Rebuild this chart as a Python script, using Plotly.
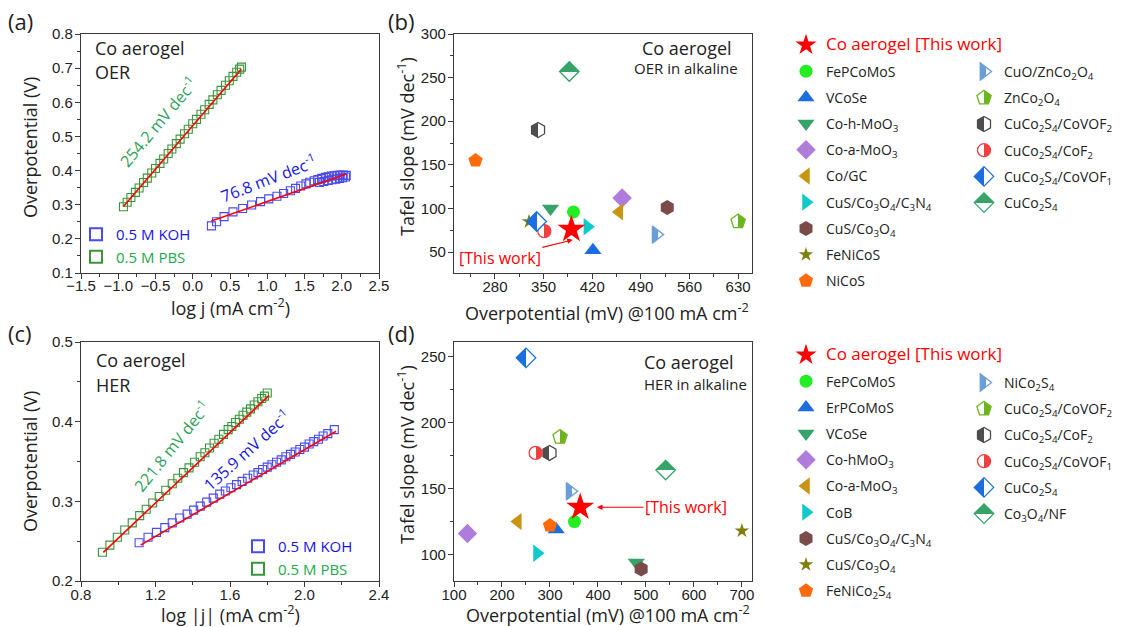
import plotly.graph_objects as go

# ---------------- (a) OER Tafel plots ----------------
oer_koh_logj = [0.25, 0.32, 0.42, 0.54, 0.67, 0.79, 0.91, 1.02, 1.13, 1.22, 1.31, 1.38, 1.45, 1.52, 1.57,
                1.63, 1.68, 1.73, 1.78, 1.82, 1.86, 1.90, 1.94, 1.98, 2.02, 2.06,
                1.70, 1.76, 1.82, 1.87, 1.92, 1.97, 2.01, 2.05]
oer_koh_eta = [0.238, 0.250, 0.265, 0.279, 0.289, 0.299, 0.309, 0.317, 0.325, 0.333, 0.341, 0.348, 0.355,
               0.361, 0.366, 0.370, 0.374, 0.377, 0.380, 0.382, 0.384, 0.385, 0.386, 0.387, 0.387, 0.386,
               0.365, 0.368, 0.371, 0.373, 0.375, 0.377, 0.379, 0.381]
oer_pbs_logj = [-0.93, -0.88, -0.83, -0.77, -0.72, -0.66, -0.61, -0.55, -0.50, -0.44, -0.39, -0.33, -0.28,
                -0.22, -0.17, -0.11, -0.06, 0.00, 0.05, 0.11, 0.16, 0.22, 0.27, 0.33, 0.38, 0.44, 0.49,
                0.54, 0.59, 0.63, 0.653]
oer_pbs_eta = [0.294, 0.307, 0.321, 0.336, 0.349, 0.365, 0.378, 0.393, 0.406, 0.421, 0.434, 0.450, 0.463,
               0.479, 0.492, 0.508, 0.521, 0.537, 0.550, 0.565, 0.578, 0.594, 0.607, 0.622, 0.635, 0.650,
               0.663, 0.676, 0.688, 0.697, 0.703]
oer_koh_fit_x = [0.25, 2.06]
oer_koh_fit_y = [0.252, 0.390]
oer_pbs_fit_x = [-0.93, 0.65]
oer_pbs_fit_y = [0.295, 0.697]

# ---------------- (c) HER Tafel plots ----------------
her_koh_logj = [1.112, 1.160, 1.205, 1.250, 1.290, 1.330, 1.370, 1.405, 1.440, 1.475, 1.510, 1.545, 1.575,
                1.605, 1.635, 1.665, 1.695, 1.725, 1.750, 1.775, 1.800, 1.825, 1.850, 1.875, 1.900, 1.925,
                1.950, 1.975, 2.000, 2.025, 2.050, 2.075, 2.100, 2.125, 2.160]
her_koh_eta = [0.248, 0.255, 0.261, 0.267, 0.273, 0.279, 0.284, 0.289, 0.294, 0.299, 0.304, 0.309, 0.313,
               0.317, 0.321, 0.325, 0.329, 0.333, 0.336, 0.340, 0.343, 0.346, 0.349, 0.352, 0.356, 0.359,
               0.362, 0.365, 0.368, 0.372, 0.375, 0.378, 0.382, 0.385, 0.390]
her_pbs_logj = [0.915, 0.955, 0.995, 1.035, 1.075, 1.115, 1.150, 1.185, 1.220, 1.255, 1.290, 1.320, 1.350,
                1.380, 1.410, 1.440, 1.465, 1.490, 1.515, 1.540, 1.565, 1.590, 1.610, 1.630, 1.650, 1.670,
                1.690, 1.710, 1.730, 1.750, 1.770, 1.785, 1.800]
her_pbs_eta = [0.236, 0.245, 0.255, 0.264, 0.273, 0.282, 0.290, 0.298, 0.306, 0.314, 0.322, 0.329, 0.336,
               0.342, 0.349, 0.356, 0.361, 0.367, 0.373, 0.378, 0.384, 0.390, 0.394, 0.399, 0.403, 0.408,
               0.412, 0.416, 0.421, 0.425, 0.429, 0.432, 0.436]
her_koh_fit_x = [1.12, 2.17]
her_koh_fit_y = [0.245, 0.388]
her_pbs_fit_x = [0.92, 1.81]
her_pbs_fit_y = [0.236, 0.433]

# ---------------- (b) OER comparison ----------------
oer_names = ["Co aerogel [This work]", "FePCoMoS", "VCoSe", "Co-h-MoO<sub>3</sub>", "Co-a-MoO<sub>3</sub>",
             "Co/GC", "CuS/Co<sub>3</sub>O<sub>4</sub>/C<sub>3</sub>N<sub>4</sub>", "CuS/Co<sub>3</sub>O<sub>4</sub>",
             "FeNiCoS", "NiCoS", "CuO/ZnCo<sub>2</sub>O<sub>4</sub>", "ZnCo<sub>2</sub>O<sub>4</sub>",
             "CuCo<sub>2</sub>S<sub>4</sub>/CoVOF<sub>2</sub>", "CuCo<sub>2</sub>S<sub>4</sub>/CoF<sub>2</sub>",
             "CuCo<sub>2</sub>S<sub>4</sub>/CoVOF<sub>1</sub>", "CuCo<sub>2</sub>S<sub>4</sub>"]
oer_overpotential = [390, 393, 421, 360, 463, 459, 413, 528, 329, 252, 512, 630, 342, 351, 340, 387]
oer_tafel = [76, 96, 52, 100, 112, 96, 79, 101, 85, 155, 70, 85, 190, 74, 85, 257]

# ---------------- (d) HER comparison ----------------
her_names = ["Co aerogel [This work]", "FePCoMoS", "ErPCoMoS", "VCoSe", "Co-hMoO<sub>3</sub>",
             "Co-a-MoO<sub>3</sub>", "CoB", "CuS/Co<sub>3</sub>O<sub>4</sub>/C<sub>3</sub>N<sub>4</sub>",
             "CuS/Co<sub>3</sub>O<sub>4</sub>", "FeNiCo<sub>2</sub>S<sub>4</sub>", "NiCo<sub>2</sub>S<sub>4</sub>",
             "CuCo<sub>2</sub>S<sub>4</sub>/CoVOF<sub>2</sub>", "CuCo<sub>2</sub>S<sub>4</sub>/CoF<sub>2</sub>",
             "CuCo<sub>2</sub>S<sub>4</sub>/CoVOF<sub>1</sub>", "CuCo<sub>2</sub>S<sub>4</sub>",
             "Co<sub>3</sub>O<sub>4</sub>/NF"]
her_overpotential = [363, 351, 313, 480, 128, 233, 273, 490, 700, 300, 342, 321, 299, 270, 250, 541]
her_tafel = [135.9, 125, 119, 94, 116, 125, 101, 89, 118, 122, 148, 189, 177, 177, 249, 164]

# ---------------- marker styles (shared by b and d) ----------------
symbols = ['star', 'circle', 'triangle-up', 'triangle-down', 'diamond', 'triangle-left', 'triangle-right',
           'hexagon', 'star', 'pentagon', 'triangle-right', 'pentagon', 'hexagon', 'circle', 'diamond', 'diamond']
colors = ['#FF0000', '#22EE22', '#1C6EE0', '#36A468', '#B07CDC', '#C99411', '#0FCACA', '#7B4B4A',
          '#7F7F0E', '#FF6A0D', '#6A9ED8', '#6DB51E', '#4D4D4D', '#F0403F', '#1C6EE0', '#36A468']
halves = [None] * 10 + ['right', 'left', 'right', 'left', 'right', 'top']
sizes = [21, 13, 15, 15, 15, 15, 15, 15, 11, 15, 15, 15, 15, 13, 15, 15]

KOH_C = '#4A4AF0'
PBS_C = '#3A963A'
FIT_C = '#FF0000'
TXT = '#222222'
FONT = 'Open Sans'
TICKFONT = 'Liberation Sans'

fig = go.Figure()


def tafel(x, y, color, name, xa, ya, legend, show):
    fig.add_trace(go.Scatter(x=x, y=y, mode='markers', name=name, xaxis=xa, yaxis=ya,
                             legend=legend, showlegend=show, hoverinfo='skip',
                             marker=dict(symbol='square-open', size=8, color=color,
                                         line=dict(width=1.1, color=color))))


def fit(x, y, xa, ya):
    fig.add_trace(go.Scatter(x=x, y=y, mode='lines', xaxis=xa, yaxis=ya, showlegend=False,
                             hoverinfo='skip', line=dict(color=FIT_C, width=1.6)))


koh_label = '<span style="color:#1515E6">0.5 M KOH</span>'
pbs_label = '<span style="color:#22AA4C">0.5 M PBS</span>'

# panel a
tafel(oer_koh_logj, oer_koh_eta, KOH_C, koh_label, 'x', 'y', 'legend5', True)
tafel(oer_pbs_logj, oer_pbs_eta, PBS_C, pbs_label, 'x', 'y', 'legend5', True)
fit(oer_koh_fit_x, oer_koh_fit_y, 'x', 'y')
fit(oer_pbs_fit_x, oer_pbs_fit_y, 'x', 'y')
# panel c
tafel(her_koh_logj, her_koh_eta, KOH_C, koh_label, 'x3', 'y3', 'legend6', True)
tafel(her_pbs_logj, her_pbs_eta, PBS_C, pbs_label, 'x3', 'y3', 'legend6', True)
fit(her_koh_fit_x, her_koh_fit_y, 'x3', 'y3')
fit(her_pbs_fit_x, her_pbs_fit_y, 'x3', 'y3')


def marker_for(i):
    c = colors[i]
    h = halves[i]
    if h is None:
        return dict(symbol=symbols[i], size=sizes[i], color=c, line=dict(width=0, color=c))
    if h == 'right':
        return dict(symbol=symbols[i], size=sizes[i], color=c, line=dict(width=1.3, color=c),
                    gradient=dict(type='horizontal', color='#FFFFFF'))
    if h == 'left':
        return dict(symbol=symbols[i], size=sizes[i], color='#FFFFFF', line=dict(width=1.3, color=c),
                    gradient=dict(type='horizontal', color=c))
    return dict(symbol=symbols[i], size=sizes[i], color=c, line=dict(width=1.3, color=c),
                gradient=dict(type='vertical', color='#FFFFFF'))


def comparison(names, xs, ys, xa, ya, leg_left, leg_right):
    order = list(range(1, len(names))) + [0]  # star drawn on top
    for i in order:
        name = names[i]
        if i == 0:
            name = '<span style="color:#FF0000;font-size:17px">' + name + '</span>'
        fig.add_trace(go.Scatter(x=[xs[i]], y=[ys[i]], mode='markers', name=name, xaxis=xa, yaxis=ya,
                                 legend=leg_left if i <= 9 else leg_right, legendrank=i + 1,
                                 legendgroup=xa + '_' + str(i), hoverinfo='skip', marker=marker_for(i)))


comparison(oer_names, oer_overpotential, oer_tafel, 'x2', 'y2', 'legend', 'legend2')
comparison(her_names, her_overpotential, her_tafel, 'x4', 'y4', 'legend3', 'legend4')

W, H = 1132, 627


def px(v):
    return v / W


def py(v):
    return 1 - v / H


def axis(domain, rng, dtick, tick0, minor_dtick, anchor, fmt=None, standoff=0):
    d = dict(domain=domain, range=rng, dtick=dtick, tick0=tick0, anchor=anchor,
             showline=True, linecolor='#3A3A3A', linewidth=1.3, mirror=True,
             ticks='outside', ticklen=5, tickwidth=1.2, tickcolor='#3A3A3A',
             showgrid=False, zeroline=False, ticklabelstandoff=standoff,
             tickfont=dict(family=TICKFONT, size=15, color=TXT),
             minor=dict(dtick=minor_dtick, tick0=tick0, ticks='outside', ticklen=3, tickwidth=1,
                        tickcolor='#3A3A3A', showgrid=False),
             automargin=False)
    if fmt:
        d['tickformat'] = fmt
    return d


xa_dom = [px(81), px(379)]
xb_dom = [px(454), px(752)]
ytop_dom = [py(273), py(34)]
ybot_dom = [py(581), py(342)]

fig.update_layout(
    width=W, height=H, margin=dict(l=0, r=0, t=0, b=0),
    paper_bgcolor='white', plot_bgcolor='white',
    xaxis=axis(xa_dom, [-1.5, 2.5], 0.5, -1.5, 0.25, 'y', '.1f', -6),
    yaxis=axis(ytop_dom, [0.1, 0.8], 0.1, 0.1, 0.05, 'x', '.1f', -1),
    xaxis2=axis(xb_dom, [221, 650], 70, 280, 35, 'y2', None, -5),
    yaxis2=axis(ytop_dom, [26, 300], 50, 50, 25, 'x2', None, -1),
    xaxis3=axis(xa_dom, [0.8, 2.4], 0.4, 0.8, 0.2, 'y3', '.1f', -5),
    yaxis3=axis(ybot_dom, [0.2, 0.5], 0.1, 0.2, 0.05, 'x3', '.1f', -1),
    xaxis4=axis(xb_dom, [100, 721], 100, 100, 50, 'y4', None, -5),
    yaxis4=axis(ybot_dom, [80, 261], 50, 100, 25, 'x4', None, -1),
    showlegend=True,
)

leg_common = dict(xanchor='left', yanchor='top', bgcolor='rgba(0,0,0,0)', borderwidth=0,
                  font=dict(family=FONT, size=14, color=TXT), tracegroupgap=5, traceorder='grouped')
fig.update_layout(
    legend=dict(x=px(786), y=py(29.4), **leg_common),
    legend2=dict(x=px(964), y=py(56), **leg_common),
    legend3=dict(x=px(786), y=py(339.4), **leg_common),
    legend4=dict(x=px(964), y=py(367), **leg_common),
    legend5=dict(x=px(76), y=py(218), xanchor='left', yanchor='top', bgcolor='rgba(0,0,0,0)',
                 font=dict(family=FONT, size=15, color=TXT), itemsizing='constant'),
    legend6=dict(x=px(238), y=py(530), xanchor='left', yanchor='top', bgcolor='rgba(0,0,0,0)',
                 font=dict(family=FONT, size=15, color=TXT), itemsizing='constant'),
)

ann = []


def note(text, x, y, size, color=TXT, xanchor='left', xref='paper', yref='paper', angle=0):
    ann.append(dict(text=text, x=x, y=y, xref=xref, yref=yref, showarrow=False, xanchor=xanchor,
                    yanchor='middle', textangle=angle, font=dict(family=FONT, size=size, color=color)))


# panel labels
note('(a)', px(6), py(21), 22)
note('(b)', px(386), py(21), 22)
note('(c)', px(6), py(333), 22)
note('(d)', px(386), py(333), 22)
# axis titles
note('log j (mA cm<sup>-2</sup>)', px(230), py(307), 18, xanchor='center')
note('log |j| (mA cm<sup>-2</sup>)', px(230), py(614), 18, xanchor='center')
note('Overpotential (mV) @100 mA cm<sup>-2</sup>', px(607), py(312), 18, xanchor='center')
note('Overpotential (mV) @100 mA cm<sup>-2</sup>', px(608), py(614), 18, xanchor='center')
note('Overpotential (V)', px(30), py(148), 18, xanchor='center', angle=-90)
note('Overpotential (V)', px(30), py(462), 18, xanchor='center', angle=-90)
note('Tafel slope (mV dec<sup>-1</sup>)', px(406), py(147), 18, xanchor='center', angle=-90)
note('Tafel slope (mV dec<sup>-1</sup>)', px(406), py(455), 18, xanchor='center', angle=-90)
# in-panel titles
note('Co aerogel', px(93), py(48), 18)
note('OER', px(93), py(72), 18)
note('Co aerogel', px(94), py(360), 18)
note('HER', px(94), py(385), 18)
note('Co aerogel', px(687), py(48), 18, xanchor='center')
note('OER in alkaline', px(686), py(68), 15, xanchor='center')
note('Co aerogel', px(689), py(362), 18, xanchor='center')
note('HER in alkaline', px(695), py(384), 15, xanchor='center')
# slope labels
note('254.2 mV dec<sup>-1</sup>', -0.47, 0.543, 16, '#2EA25A', 'center', 'x', 'y', -50)
note('76.8 mV dec<sup>-1</sup>', 1.02, 0.379, 16, '#1515E6', 'center', 'x', 'y', -21)
note('221.8 mV dec<sup>-1</sup>', 1.288, 0.369, 16, '#2EA25A', 'center', 'x3', 'y3', -51)
note('135.9 mV dec<sup>-1</sup>', 1.69, 0.364, 16, '#1515E6', 'center', 'x3', 'y3', -42)

# [This work] arrows
ann.append(dict(text='[This work]', x=392, y=64, xref='x2', yref='y2', ax=-73, ay=18,
                showarrow=True, arrowhead=2, arrowsize=1, arrowwidth=1.1, arrowcolor='#FF0000',
                font=dict(family=FONT, size=16, color='#FF0000'), standoff=0))
ann.append(dict(text='[This work]', x=398, y=135.8, xref='x4', yref='y4', ax=89, ay=0,
                showarrow=True, arrowhead=2, arrowsize=1, arrowwidth=1.1, arrowcolor='#FF0000',
                font=dict(family=FONT, size=16, color='#FF0000'), standoff=0))

fig.update_layout(annotations=ann)

post = """
(function(){
  document.documentElement.style.margin = '0';
  document.body.style.margin = '0';
  document.body.style.padding = '0';
  function sharpen(){
    document.querySelectorAll('linearGradient').forEach(function(g){
      var s = g.querySelectorAll('stop');
      if (s.length === 2) { s[0].setAttribute('offset','50%'); s[1].setAttribute('offset','50%'); }
    });
  }
  sharpen();
  var gd = document.querySelector('.plotly-graph-div');
  if (gd && gd.on) { gd.on('plotly_afterplot', sharpen); }
})();
"""

fig.write_html("out.html", post_script=post, config={'displayModeBar': False})
